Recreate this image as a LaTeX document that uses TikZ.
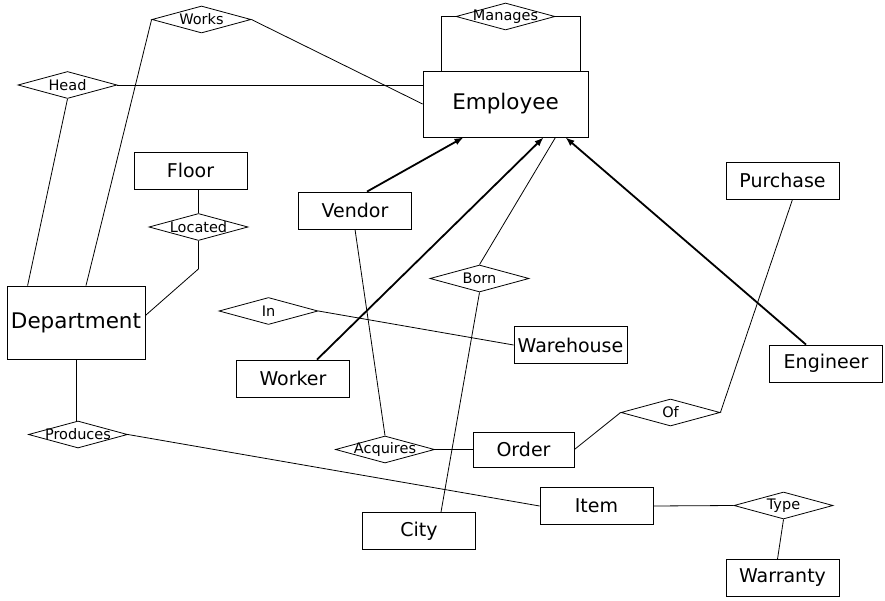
\documentclass[tikz,border=0pt]{standalone}
\usepackage{fontspec}
\setmainfont{DejaVu Sans}
\usetikzlibrary{arrows.meta,calc,positioning,shapes.geometric}

\begin{document}
\begin{tikzpicture}[x=1pt,y=-1pt,line width=0.8pt,
  ent/.style={draw,inner sep=0pt,minimum width=113pt,minimum height=37pt,
    font=\fontsize{19}{21}\selectfont},
  bigent/.style={ent,font=\fontsize{21.5}{23}\selectfont},
  rel/.style={draw,diamond,inner sep=0pt,minimum width=99pt,minimum height=27pt},
  rlabel/.style={inner sep=0pt,font=\fontsize{14.5}{16}\selectfont},
  isa/.style={line width=1.8pt,-{Latex[length=9pt,width=7pt]}}]
  \useasboundingbox (0,0) rectangle (885,601);
  % entities
  \node[bigent,minimum width=165pt,minimum height=66pt] (emp) at (505.5,104) {Employee};
  \node[bigent,minimum width=138pt,minimum height=73pt] (dept) at (76,322.5) {Department};
  \node[ent] (floor) at (190.5,170.5) {Floor};
  \node[ent] (vendor) at (355,210.5) {Vendor};
  \node[ent] (worker) at (293,378.5) {Worker};
  \node[ent] (wareh) at (570.5,345) {Warehouse};
  \node[ent] (city) at (419,531) {City};
  \node[ent] (eng) at (826,363.5) {Engineer};
  \node[ent] (purch) at (782.5,180.5) {Purchase};
  \node[ent,minimum width=101pt,minimum height=35pt] (order) at (523.5,449.5) {Order};
  \node[ent] (item) at (596.5,506) {Item};
  \node[ent] (warr) at (782.5,578) {Warranty};
  % relationships
  \node[rel,label={[rlabel]center:Manages}] (manages) at (505.5,16.5) {};
  \node[rel,label={[rlabel]center:Works}] (works) at (201.5,19.5) {};
  \node[rel,label={[rlabel]center:Head}] (head) at (67.5,85) {};
  \node[rel,label={[rlabel]center:Located}] (located) at (198.5,227) {};
  \node[rel,label={[rlabel]center:Produces}] (produces) at (78,434.5) {};
  \node[rel,label={[rlabel]center:In}] (inrel) at (268.5,311) {};
  \node[rel,label={[rlabel]center:Born}] (born) at (479.5,278.5) {};
  \node[rel,label={[rlabel]center:Of}] (ofrel) at (670.5,412.5) {};
  \node[rel,label={[rlabel]center:Acquires}] (acquires) at (385,449.5) {};
  \node[rel,label={[rlabel]center:Type}] (typerel) at (783.5,505.5) {};
  % links
  \draw (manages.west) -| ($(emp.north west)+(19,0)$);
  \draw (manages.east) -| ($(emp.north east)+(-8,0)$);
  \draw (works.east) -- (emp.west);
  \draw (works.west) -- ($(dept.north)+(10,0)$);
  \draw (head.east) -- (head.east -| emp.west);
  \draw (head.south) -- ($(dept.north west)+(21,0)$);
  \draw (located.north) -- (located.north |- floor.south);
  \draw (located.south) -- ++(0,28) -- ($(dept.east)+(0,-7)$);
  \draw (dept.south) -- (dept.south |- produces.north);
  \draw (produces.east) -- (item.west);
  \draw (vendor.south) -- (acquires.north);
  \draw (inrel.east) -- (wareh.west);
  \draw (born.north) -- ($(emp.south)+(50,0)$);
  \draw (born.south) -- ($(city.north)+(22,0)$);
  \draw ($(purch.south)+(10,0)$) -- (ofrel.east);
  \draw (ofrel.west) -- (order.east);
  \draw (acquires.east) -- (order.west);
  \draw (item.east) -- (typerel.west);
  \draw (typerel.south) -- ($(warr.north)+(-5,0)$);
  % specialisations
  \draw[isa] ($(vendor.north)+(12,0)$) -- ($(emp.south)+(-42,0)$);
  \draw[isa] ($(worker.north)+(24,0)$) -- ($(emp.south)+(38,0)$);
  \draw[isa] ($(eng.north)+(-20,0)$) -- ($(emp.south)+(60,0)$);
\end{tikzpicture}
\end{document}
